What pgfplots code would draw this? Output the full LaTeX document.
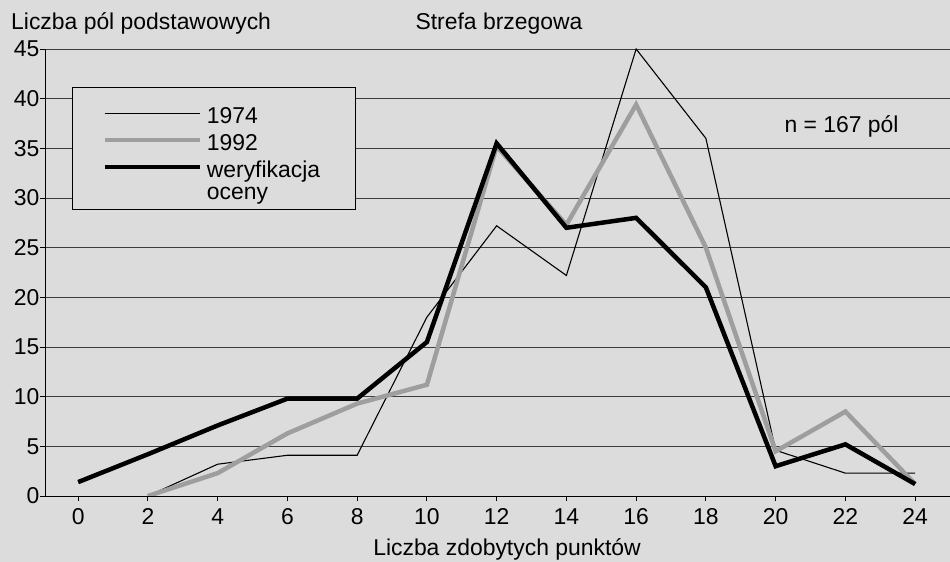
\documentclass[border=0pt]{standalone}
\usepackage{pgfplots}
\pgfplotsset{compat=1.18}
\usepackage{fontspec}
\setmainfont{Liberation Sans}
\definecolor{bg}{RGB}{220,220,220}
\definecolor{grayline}{RGB}{158,158,158}
\definecolor{gridc}{RGB}{60,60,60}
\begin{document}
\begin{tikzpicture}[x=1bp,y=1bp,every node/.style={font=\fontsize{23}{27}\selectfont}]
\fill[bg] (0,0) rectangle (950,562);
\path[use as bounding box] (0,0) rectangle (950,562);
\begin{axis}[
 at={(45bp,66bp)}, anchor=south west,
 scale only axis, width=905bp, height=447bp,
 xmin=-0.95, xmax=25, ymin=0, ymax=45,
 axis x line*=bottom, axis y line*=left,
 xtick={0,2,...,24}, ytick={0,5,...,45},
 ymajorgrids, grid style={gridc, line width=0.8pt},
 axis line style={black, line width=0.8pt},
 tick style={black, line width=0.8pt},
 tick align=outside, major tick length=5bp,
 tick label style={font=\fontsize{23}{27}\selectfont},
 yticklabel style={xshift=3bp},
 xticklabel style={yshift=-4bp},
 /pgf/number format/assume math mode=true,
 legend style={at={(0.0298,0.915)}, anchor=north west, draw=black, line width=0.8pt, fill=bg,
   font=\fontsize{23}{27}\selectfont, inner xsep=30bp, inner ysep=10bp, row sep=0bp,
   nodes={inner xsep=5bp, inner ysep=0pt, text depth=0pt}},
 legend cell align=left,
 legend image code/.code={\draw[#1] (0bp,-3bp) -- (95bp,-3bp);},
]
\addplot[black, line width=1.1pt] coordinates {(2,0)(4,3.2)(6,4.1)(8,4.1)(10,18)(12,27.2)(14,22.2)(16,45)(18,36)(20,4.6)(22,2.3)(24,2.3)};
\addlegendentry{\raisebox{0pt}[26bp][0bp]{1974}}
\addplot[grayline, line width=4.5bp] coordinates {(2,0)(4,2.3)(6,6.3)(8,9.3)(10,11.2)(12,35.2)(14,27.3)(16,39.4)(18,25)(20,4.5)(22,8.5)(24,1.2)};
\addlegendentry{\raisebox{0pt}[27bp][0bp]{1992}}
\addplot[black, line width=4.5bp] coordinates {(0,1.4)(2,4.2)(4,7.1)(6,9.8)(8,9.8)(10,15.5)(12,35.5)(14,27)(16,28)(18,21)(20,3)(22,5.2)(24,1.2)};
\addlegendentry{\raisebox{0pt}[27bp][0bp]{weryfikacja}}
\addlegendimage{empty legend}
\addlegendentry{\raisebox{0pt}[22bp][0bp]{oceny}}
\node[anchor=base west, inner sep=0pt] at (axis cs:20.25,36.6) {n = 167 pól};
\end{axis}
\node[anchor=base west, inner sep=0pt] at (11,532) {Liczba pól podstawowych};
\node[anchor=base, inner sep=0pt] at (499,532) {Strefa brzegowa};
\node[anchor=base, inner sep=0pt] at (507,6) {Liczba zdobytych punktów};
\end{tikzpicture}
\end{document}
